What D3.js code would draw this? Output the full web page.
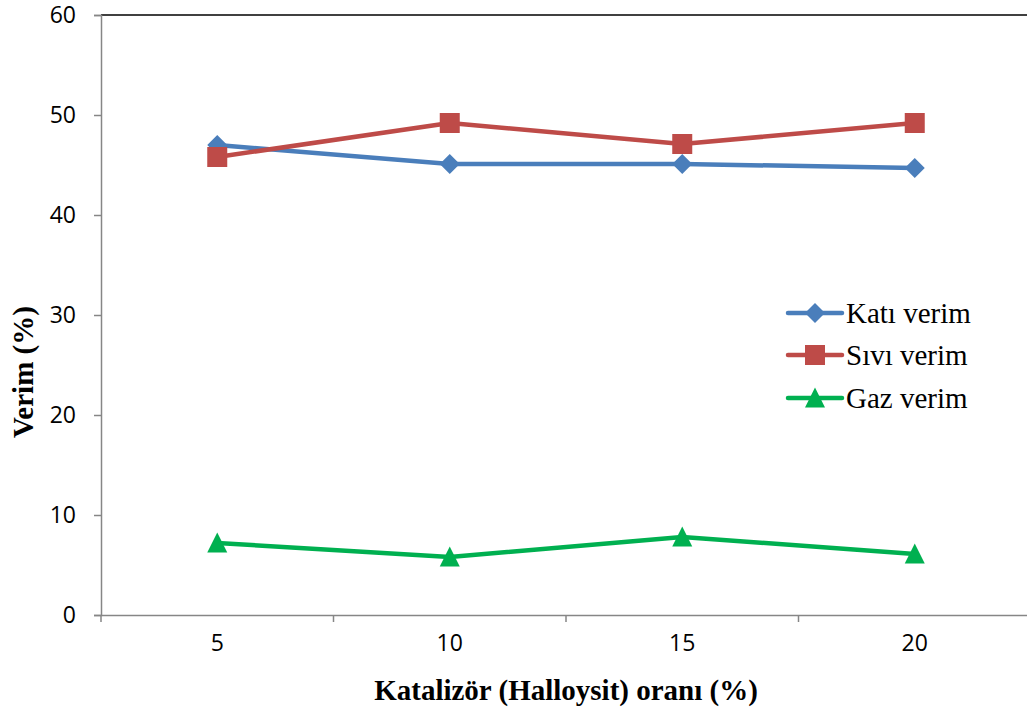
<!DOCTYPE html>
<html><head><meta charset="utf-8">
<script src="https://cdn.jsdelivr.net/npm/d3@7"></script>
<style>html,body{margin:0;padding:0;background:#fff;overflow:hidden}</style>
</head><body>
<svg id="c" width="1027" height="713"></svg>
<script>
const categories = ["5", "10", "15", "20"];
const katiVerim = [47.0, 45.1, 45.1, 44.7];
const siviVerim = [45.8, 49.2, 47.1, 49.2];
const gazVerim = [7.2, 5.8, 7.8, 6.1];
const yTicks = [0, 10, 20, 30, 40, 50, 60];
const seriesNames = ["Katı verim", "Sıvı verim", "Gaz verim"];

(function () {
const series = [
  {name: seriesNames[0], values: katiVerim, color: "#4a7ebb", marker: "diamond"},
  {name: seriesNames[1], values: siviVerim, color: "#be4b48", marker: "square"},
  {name: seriesNames[2], values: gazVerim, color: "#00b050", marker: "triangle"}
];

const svg = d3.select("#c");
const mLeft = 101, mTop = 15, width = 930, height = 600;

const x = d3.scaleBand().domain(categories).range([mLeft, mLeft + width]);
const y = d3.scaleLinear().domain([0, 60]).range([mTop + height, mTop]);

// top border
svg.append("line").attr("x1", mLeft).attr("x2", mLeft + width).attr("y1", mTop).attr("y2", mTop)
  .attr("stroke", "#000").attr("stroke-width", 1.5);

// y axis
const yAxis = svg.append("g").attr("transform", `translate(${mLeft},0)`)
  .call(d3.axisLeft(y).tickValues(yTicks).tickSize(7).tickPadding(18));
yAxis.select(".domain").attr("stroke", "#868686").attr("stroke-width", 1.5);
yAxis.selectAll(".tick line").attr("stroke", "#868686").attr("stroke-width", 1.5);
yAxis.selectAll("text").attr("font-family", "'Open Sans', sans-serif").attr("font-size", 23).attr("fill", "#000");

// x axis
const xAxis = svg.append("g").attr("transform", `translate(0,${mTop + height})`)
  .call(d3.axisBottom(x).tickSize(0).tickPadding(20));
xAxis.select(".domain").attr("stroke", "#868686").attr("stroke-width", 1.5);
xAxis.selectAll("text").attr("font-family", "'Open Sans', sans-serif").attr("font-size", 23).attr("fill", "#000");
// category boundary ticks
const bounds = categories.map(c => x(c)).concat([mLeft + width]);
svg.append("g").selectAll("line").data(bounds).join("line")
  .attr("x1", d => d).attr("x2", d => d).attr("y1", mTop + height).attr("y2", mTop + height + 7)
  .attr("stroke", "#868686").attr("stroke-width", 1.5);

const cx = c => x(c) + x.bandwidth() / 2;
const line = d3.line().x((d, i) => cx(categories[i])).y(d => y(d));

function drawMarker(g, type, color, px, py) {
  if (type === "diamond") {
    g.append("path").attr("d", `M${px},${py - 10}L${px + 10},${py}L${px},${py + 10}L${px - 10},${py}Z`).attr("fill", color);
  } else if (type === "square") {
    g.append("rect").attr("x", px - 10).attr("y", py - 10).attr("width", 20).attr("height", 20).attr("fill", color);
  } else {
    g.append("path").attr("d", `M${px},${py - 10.5}L${px + 10},${py + 9.5}L${px - 10},${py + 9.5}Z`).attr("fill", color);
  }
}

series.forEach(s => {
  const g = svg.append("g");
  g.append("path").attr("d", line(s.values)).attr("fill", "none")
    .attr("stroke", s.color).attr("stroke-width", 4.5).attr("stroke-linejoin", "round");
  s.values.forEach((v, i) => drawMarker(g, s.marker, s.color, cx(categories[i]), y(v)));
});

// legend
const legendY = [313, 355, 398];
series.forEach((s, i) => {
  const g = svg.append("g");
  g.append("line").attr("x1", 788).attr("x2", 842).attr("y1", legendY[i]).attr("y2", legendY[i])
    .attr("stroke", s.color).attr("stroke-width", 4.5).attr("stroke-linecap", "round");
  drawMarker(g, s.marker, s.color, 815, legendY[i]);
  g.append("text").attr("x", 846).attr("y", legendY[i] + 10).text(s.name)
    .attr("font-family", "'Liberation Serif', 'Times New Roman', serif").attr("font-size", 29).attr("fill", "#000");
});

// axis titles
svg.append("text").attr("transform", "translate(33,372) rotate(-90)").attr("text-anchor", "middle")
  .attr("font-family", "'Liberation Serif', 'Times New Roman', serif").attr("font-weight", "bold")
  .attr("font-size", 29).text("Verim (%)");
svg.append("text").attr("x", 566).attr("y", 700).attr("text-anchor", "middle")
  .attr("font-family", "'Liberation Serif', 'Times New Roman', serif").attr("font-weight", "bold")
  .attr("font-size", 29).text("Katalizör (Halloysit) oranı (%)");
})();
</script>
</body></html>
